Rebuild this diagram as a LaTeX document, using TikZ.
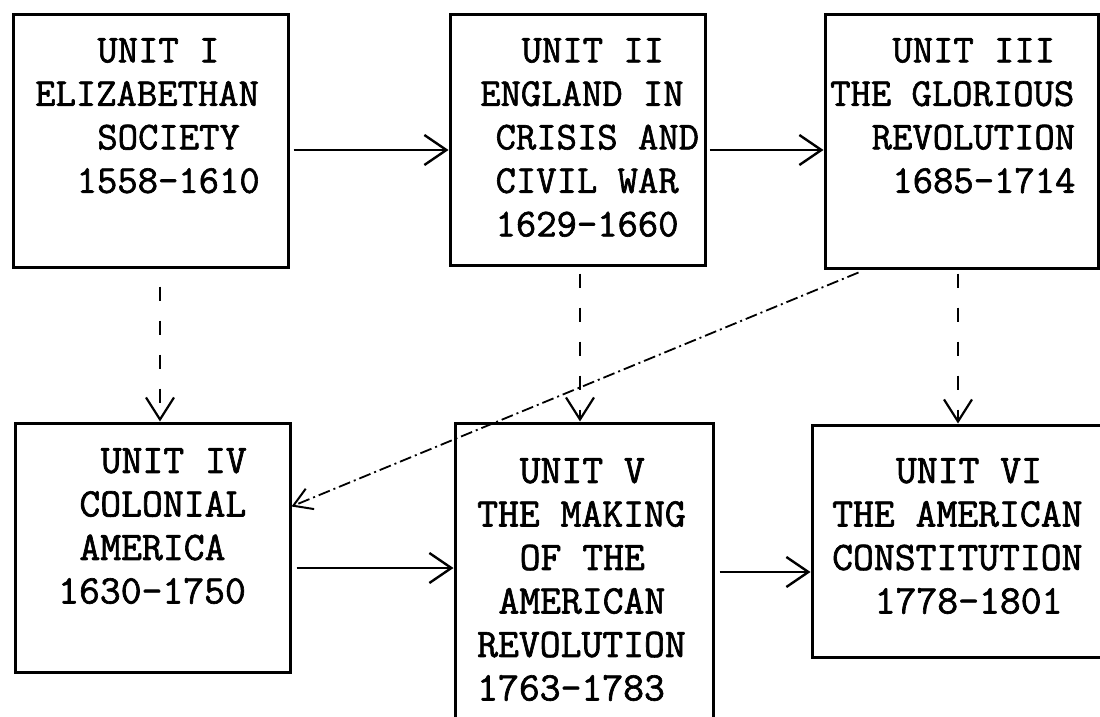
\documentclass[tikz,border=0pt]{standalone}
\usepackage{fontspec}
\setmonofont[FakeBold=1.6]{Latin Modern Mono}
\usetikzlibrary{arrows.meta}
\begin{document}
\begin{tikzpicture}[x=1pt,y=-1pt,
  box/.style={draw, line width=3pt, rectangle, inner sep=0pt},
  txt/.style={anchor=north west, inner sep=0pt, align=left, font=\ttfamily\fontsize{39.5}{43.5}\selectfont},
  txtb/.style={txt, font=\ttfamily\fontsize{40.5}{43.5}\selectfont},
  arr/.style={line width=2.4pt, -{Straight Barb[length=22pt,width=30pt,line width=2.4pt]}},
  darr/.style={line width=2.2pt, dash pattern=on 14pt off 20pt, -{Straight Barb[length=22pt,width=28pt,line width=2.2pt]}},
  diag/.style={line width=1.8pt, dash pattern=on 12pt off 4pt on 2pt off 4pt, -{Straight Barb[length=18pt,width=22pt,line width=2pt]}}]
\useasboundingbox (0,0) rectangle (1100,717);
\clip (0,0) rectangle (1100,717);
\fill[white] (0,0) rectangle (1100,717);
% boxes
\node[box, minimum width=275, minimum height=252] (b1) at (150.5,141) {};
\node[box, minimum width=255, minimum height=250] (b2) at (577.5,140) {};
\node[box, minimum width=273, minimum height=253] (b3) at (961.5,141.5) {};
\node[box, minimum width=275, minimum height=249] (b4) at (152.5,547.5) {};
\node[box, minimum width=258, minimum height=314] (b5) at (584,580) {};
\node[box, minimum width=290, minimum height=232] (b6) at (957,541) {};
% texts
\node[txt] (t1) at (35,38) {\hspace*{1.575em}UNIT I\\ELIZABETHAN\\\hspace*{1.575em}SOCIETY\\\hspace*{1.05em}1558-1610};
\node[txt] (t2) at (480,38) {\hspace*{1.05em}UNIT II\\ENGLAND IN\\\hspace*{0.39em}CRISIS AND\\\hspace*{0.39em}CIVIL WAR\\\hspace*{0.39em}1629-1660};
\node[txt] (t3) at (830,38) {\hspace*{1.575em}UNIT III\\THE GLORIOUS\\\hspace*{1.05em}REVOLUTION\\\hspace*{1.575em}1685-1714};
\node[txtb] (t4) at (58,448) {\hspace*{1.05em}UNIT IV\\\hspace*{0.525em}COLONIAL\\\hspace*{0.525em}AMERICA\\1630-1750};
\node[txtb] (t5) at (477,458) {\hspace*{1.05em}UNIT V\\THE MAKING\\\hspace*{1.05em}OF THE\\\hspace*{0.525em}AMERICAN\\REVOLUTION\\1763-1783};
\node[txtb] (t6) at (832,458) {\hspace*{1.575em}UNIT VI\\THE AMERICAN\\CONSTITUTION\\\hspace*{1.05em}1778-1801};
% solid arrows
\draw[arr] ([xshift=4pt]b1.east |- 0,150) -- (b2.west |- 0,150);
\draw[arr] ([xshift=3pt]b2.east |- 0,150) -- (b3.west |- 0,150);
\draw[arr] ([xshift=5pt]b4.east |- 0,568) -- (b5.west |- 0,568);
\draw[arr] ([xshift=5pt]b5.east |- 0,572) -- (b6.west |- 0,572);
% dashed arrows
\draw[darr] (b1.south -| 160,0) ++(0,18) -- (b4.north -| 160,0);
\draw[darr] (b2.south -| 580,0) ++(0,7) -- (b5.north -| 580,0);
\draw[darr] (b3.south -| 958,0) ++(0,4) -- (b6.north -| 958,0);
\draw[diag] ([shift={(35,3)}]b3.south west) -- ([yshift=-85]b4.north east);
\end{tikzpicture}
\end{document}
